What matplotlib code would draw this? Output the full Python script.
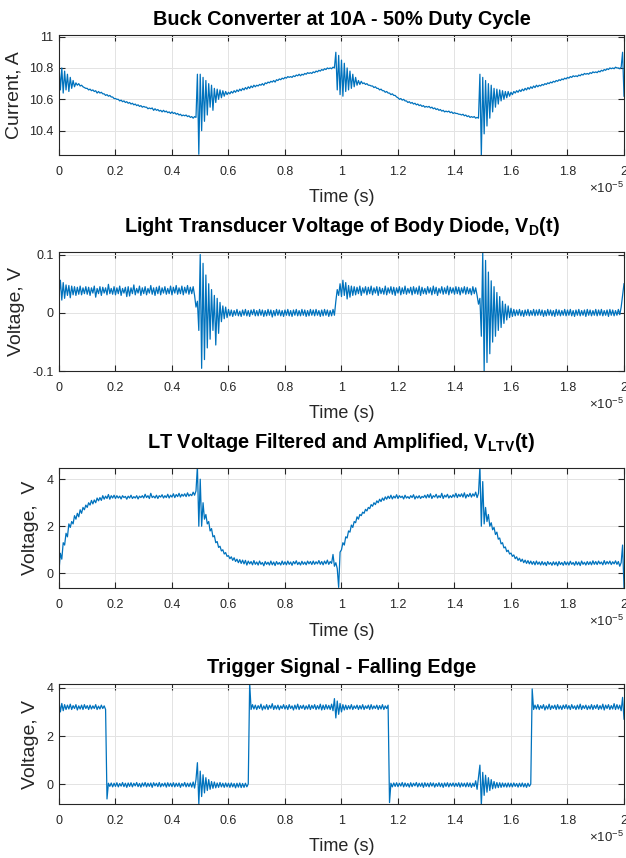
import numpy as np
import matplotlib
matplotlib.use('Agg')
import matplotlib.pyplot as plt
from matplotlib.ticker import MultipleLocator, FuncFormatter

# sample times, units of 1e-5 s (0.000 ... 2.000 in steps of 0.005)
time_steps = np.arange(401) * 0.005

# one row = 0.1e-5 s
current_a = [
    10.82, 10.66, 10.80, 10.64, 10.78, 10.66, 10.76, 10.65, 10.74, 10.67, 10.72, 10.68, 10.705, 10.69, 10.70, 10.685, 10.69, 10.68, 10.675, 10.67,
    10.67, 10.66, 10.665, 10.655, 10.66, 10.65, 10.655, 10.64, 10.65, 10.64, 10.645, 10.635, 10.635, 10.625, 10.63, 10.62, 10.625, 10.615, 10.615, 10.605,
    10.605, 10.60, 10.60, 10.59, 10.595, 10.585, 10.59, 10.58, 10.585, 10.575, 10.58, 10.57, 10.575, 10.565, 10.57, 10.56, 10.565, 10.555, 10.56, 10.55,
    10.555, 10.55, 10.55, 10.54, 10.545, 10.54, 10.545, 10.53, 10.54, 10.53, 10.535, 10.525, 10.53, 10.52, 10.53, 10.52, 10.525, 10.515, 10.52, 10.51,
    10.52, 10.51, 10.515, 10.505, 10.51, 10.50, 10.505, 10.495, 10.50, 10.495, 10.50, 10.49, 10.495, 10.485, 10.49, 10.48, 10.49, 10.485, 10.76, 10.25,
    10.76, 10.40, 10.74, 10.46, 10.72, 10.50, 10.70, 10.55, 10.69, 10.53, 10.67, 10.58, 10.665, 10.60, 10.66, 10.61, 10.655, 10.62, 10.65, 10.63,
    10.645, 10.635, 10.65, 10.64, 10.655, 10.645, 10.66, 10.65, 10.665, 10.655, 10.67, 10.66, 10.675, 10.665, 10.68, 10.67, 10.685, 10.675, 10.69, 10.68,
    10.69, 10.685, 10.695, 10.69, 10.70, 10.69, 10.705, 10.70, 10.71, 10.705, 10.715, 10.71, 10.72, 10.71, 10.725, 10.72, 10.73, 10.725, 10.735, 10.73,
    10.74, 10.735, 10.745, 10.74, 10.745, 10.74, 10.75, 10.745, 10.755, 10.75, 10.76, 10.75, 10.76, 10.755, 10.765, 10.76, 10.77, 10.765, 10.77, 10.765,
    10.775, 10.77, 10.78, 10.775, 10.785, 10.78, 10.79, 10.785, 10.795, 10.79, 10.80, 10.795, 10.80, 10.795, 10.805, 10.80, 10.90, 10.66, 10.88, 10.63,
    10.85, 10.62, 10.83, 10.65, 10.80, 10.66, 10.78, 10.67, 10.76, 10.68, 10.74, 10.69, 10.72, 10.695, 10.715, 10.70, 10.705, 10.695, 10.70, 10.69,
    10.69, 10.685, 10.685, 10.675, 10.68, 10.67, 10.67, 10.66, 10.665, 10.655, 10.655, 10.645, 10.65, 10.64, 10.64, 10.63, 10.635, 10.625, 10.625, 10.615,
    10.61, 10.60, 10.605, 10.595, 10.60, 10.59, 10.59, 10.58, 10.585, 10.575, 10.58, 10.57, 10.575, 10.565, 10.57, 10.56, 10.565, 10.555, 10.56, 10.55,
    10.555, 10.55, 10.555, 10.545, 10.55, 10.54, 10.545, 10.535, 10.54, 10.53, 10.535, 10.525, 10.53, 10.52, 10.525, 10.52, 10.525, 10.515, 10.52, 10.51,
    10.515, 10.51, 10.51, 10.505, 10.505, 10.50, 10.505, 10.495, 10.50, 10.49, 10.495, 10.485, 10.49, 10.485, 10.49, 10.48, 10.485, 10.48, 10.76, 10.24,
    10.74, 10.38, 10.72, 10.43, 10.70, 10.48, 10.69, 10.52, 10.67, 10.55, 10.665, 10.57, 10.66, 10.59, 10.655, 10.60, 10.65, 10.61, 10.65, 10.62,
    10.645, 10.63, 10.65, 10.64, 10.655, 10.645, 10.66, 10.65, 10.665, 10.655, 10.67, 10.66, 10.675, 10.665, 10.68, 10.67, 10.685, 10.675, 10.69, 10.68,
    10.69, 10.685, 10.695, 10.69, 10.70, 10.695, 10.705, 10.70, 10.71, 10.705, 10.715, 10.71, 10.72, 10.715, 10.725, 10.72, 10.73, 10.725, 10.735, 10.73,
    10.74, 10.735, 10.745, 10.74, 10.75, 10.745, 10.75, 10.745, 10.755, 10.75, 10.76, 10.755, 10.765, 10.76, 10.765, 10.76, 10.77, 10.765, 10.775, 10.77,
    10.775, 10.77, 10.78, 10.775, 10.785, 10.78, 10.79, 10.785, 10.795, 10.79, 10.80, 10.795, 10.80, 10.795, 10.805, 10.80, 10.80, 10.795, 10.805, 10.90,
    10.62,
]

diode_v = [
    0.028, 0.056, 0.022, 0.052, 0.025, 0.048, 0.030, 0.047, 0.026, 0.046, 0.031, 0.045, 0.030, 0.044, 0.032, 0.046, 0.031, 0.043, 0.033, 0.045,
    0.032, 0.044, 0.030, 0.043, 0.034, 0.046, 0.027, 0.042, 0.033, 0.045, 0.030, 0.044, 0.034, 0.043, 0.031, 0.049, 0.033, 0.042, 0.032, 0.045,
    0.031, 0.043, 0.033, 0.046, 0.030, 0.042, 0.034, 0.044, 0.028, 0.045, 0.029, 0.043, 0.033, 0.048, 0.031, 0.042, 0.034, 0.046, 0.030, 0.043,
    0.033, 0.045, 0.031, 0.042, 0.034, 0.047, 0.032, 0.043, 0.030, 0.044, 0.033, 0.046, 0.031, 0.043, 0.034, 0.045, 0.032, 0.042, 0.033, 0.046,
    0.031, 0.044, 0.034, 0.047, 0.032, 0.043, 0.033, 0.046, 0.031, 0.044, 0.034, 0.047, 0.032, 0.044, 0.033, 0.045, 0.030, 0.010, 0.020, -0.030,
    0.100, -0.095, 0.085, -0.080, 0.065, -0.060, 0.050, -0.045, 0.040, -0.030, 0.030, -0.055, 0.025, -0.035, 0.018, -0.015, 0.012, -0.010, 0.010, -0.008,
    0.006, -0.005, 0.005, -0.006, 0.004, -0.004, 0.006, -0.005, 0.003, -0.006, 0.005, -0.004, 0.006, -0.005, 0.004, -0.006, 0.005, -0.003, 0.006, -0.005,
    0.004, -0.005, 0.006, -0.004, 0.005, -0.006, 0.004, -0.005, 0.006, -0.004, 0.005, -0.007, 0.004, -0.005, 0.006, -0.004, 0.005, -0.005, 0.004, -0.006,
    0.005, -0.004, 0.006, -0.005, 0.004, -0.006, 0.005, -0.004, 0.006, -0.005, 0.004, -0.005, 0.006, -0.004, 0.005, -0.006, 0.004, -0.005, 0.006, -0.004,
    0.005, -0.005, 0.006, -0.004, 0.004, -0.006, 0.005, -0.005, 0.006, -0.004, 0.005, -0.006, 0.004, -0.005, 0.006, -0.004, 0.020, 0.040, 0.030, 0.050,
    0.028, 0.056, 0.030, 0.052, 0.024, 0.047, 0.027, 0.046, 0.030, 0.045, 0.031, 0.044, 0.033, 0.046, 0.030, 0.043, 0.034, 0.045, 0.031, 0.044,
    0.033, 0.046, 0.031, 0.043, 0.034, 0.045, 0.030, 0.044, 0.033, 0.042, 0.032, 0.046, 0.031, 0.043, 0.034, 0.045, 0.032, 0.044, 0.030, 0.043,
    0.034, 0.045, 0.031, 0.043, 0.033, 0.046, 0.032, 0.042, 0.034, 0.044, 0.031, 0.045, 0.033, 0.043, 0.032, 0.046, 0.030, 0.044, 0.033, 0.042,
    0.032, 0.045, 0.034, 0.043, 0.031, 0.046, 0.033, 0.044, 0.030, 0.042, 0.034, 0.045, 0.032, 0.043, 0.033, 0.046, 0.031, 0.044, 0.034, 0.043,
    0.032, 0.045, 0.033, 0.044, 0.031, 0.043, 0.034, 0.045, 0.032, 0.044, 0.033, 0.042, 0.031, 0.045, 0.033, 0.043, 0.030, 0.015, 0.025, -0.040,
    0.104, -0.100, 0.090, -0.085, 0.070, -0.070, 0.055, -0.050, 0.045, -0.040, 0.035, -0.030, 0.028, -0.025, 0.020, -0.018, 0.015, -0.012, 0.012, -0.008,
    0.008, -0.006, 0.006, -0.005, 0.005, -0.004, 0.006, -0.005, 0.004, -0.006, 0.005, -0.004, 0.006, -0.005, 0.004, -0.004, 0.006, -0.005, 0.005, -0.004,
    0.006, -0.004, 0.005, -0.006, 0.004, -0.005, 0.006, -0.004, 0.005, -0.005, 0.004, -0.006, 0.006, -0.004, 0.005, -0.005, 0.004, -0.004, 0.006, -0.005,
    0.005, -0.004, 0.006, -0.005, 0.004, -0.006, 0.005, -0.004, 0.006, -0.005, 0.004, -0.004, 0.005, -0.006, 0.006, -0.004, 0.005, -0.005, 0.004, -0.004,
    0.006, -0.005, 0.005, -0.004, 0.006, -0.005, 0.004, -0.004, 0.005, -0.006, 0.006, -0.004, 0.005, -0.005, 0.004, -0.004, 0.006, -0.003, 0.010, 0.030,
    0.050,
]

ltv_v = [
    0.10, 0.85, 0.60, 1.30, 1.20, 1.70, 1.55, 2.10, 1.95, 2.20, 2.10, 2.45, 2.30, 2.55, 2.40, 2.70, 2.55, 2.80, 2.70, 2.90,
    2.80, 3.00, 2.90, 3.10, 2.95, 3.12, 3.00, 3.20, 3.08, 3.22, 3.10, 3.30, 3.15, 3.28, 3.18, 3.35, 3.15, 3.30, 3.20, 3.32,
    3.18, 3.30, 3.20, 3.28, 3.16, 3.30, 3.22, 3.27, 3.15, 3.28, 3.20, 3.32, 3.18, 3.26, 3.20, 3.30, 3.16, 3.28, 3.22, 3.30,
    3.20, 3.36, 3.22, 3.30, 3.18, 3.40, 3.22, 3.28, 3.20, 3.32, 3.18, 3.30, 3.24, 3.34, 3.20, 3.30, 3.22, 3.36, 3.20, 3.32,
    3.24, 3.38, 3.22, 3.35, 3.26, 3.40, 3.24, 3.36, 3.28, 3.38, 3.26, 3.42, 3.28, 3.36, 3.30, 3.45, 3.32, 3.50, 4.55, 2.00,
    4.00, 2.00, 3.00, 2.30, 2.50, 2.10, 2.20, 1.80, 1.90, 1.55, 1.60, 1.30, 1.35, 1.10, 1.15, 0.95, 1.00, 0.82, 0.88, 0.72,
    0.75, 0.62, 0.70, 0.55, 0.66, 0.50, 0.60, 0.45, 0.58, 0.42, 0.56, 0.40, 0.55, 0.35, 0.52, 0.40, 0.50, 0.36, 0.54, 0.38,
    0.48, 0.35, 0.52, 0.38, 0.46, 0.32, 0.50, 0.38, 0.47, 0.35, 0.52, 0.36, 0.48, 0.33, 0.50, 0.38, 0.46, 0.35, 0.52, 0.37,
    0.49, 0.36, 0.52, 0.38, 0.48, 0.34, 0.50, 0.40, 0.53, 0.37, 0.47, 0.35, 0.51, 0.38, 0.48, 0.36, 0.52, 0.40, 0.50, 0.37,
    0.52, 0.38, 0.49, 0.40, 0.54, 0.38, 0.50, 0.36, 0.52, 0.40, 0.56, 0.38, 0.50, 0.42, 0.80, 0.30, 0.45, 0.20, -0.60, 0.90,
    1.00, 1.30, 1.20, 1.55, 1.50, 1.80, 1.75, 2.05, 1.95, 2.20, 2.15, 2.40, 2.30, 2.50, 2.45, 2.60, 2.55, 2.72, 2.65, 2.80,
    2.75, 2.92, 2.85, 3.00, 2.92, 3.08, 3.00, 3.15, 3.05, 3.20, 3.10, 3.25, 3.15, 3.28, 3.18, 3.32, 3.16, 3.28, 3.20, 3.34,
    3.18, 3.30, 3.22, 3.28, 3.16, 3.32, 3.20, 3.26, 3.18, 3.30, 3.22, 3.34, 3.16, 3.28, 3.20, 3.30, 3.18, 3.27, 3.22, 3.32,
    3.20, 3.35, 3.22, 3.38, 3.18, 3.30, 3.24, 3.36, 3.20, 3.30, 3.22, 3.40, 3.18, 3.32, 3.24, 3.36, 3.20, 3.30, 3.22, 3.34,
    3.24, 3.40, 3.22, 3.36, 3.26, 3.38, 3.24, 3.42, 3.20, 3.35, 3.26, 3.40, 3.24, 3.38, 3.28, 3.45, 3.22, 3.40, 4.55, 2.00,
    3.90, 2.10, 2.80, 2.20, 2.50, 2.00, 2.15, 1.85, 1.95, 1.65, 1.75, 1.45, 1.50, 1.25, 1.30, 1.08, 1.12, 0.92, 0.98, 0.82,
    0.86, 0.72, 0.78, 0.62, 0.70, 0.55, 0.64, 0.50, 0.60, 0.45, 0.56, 0.42, 0.54, 0.40, 0.52, 0.38, 0.50, 0.36, 0.52, 0.38,
    0.48, 0.35, 0.50, 0.36, 0.47, 0.33, 0.50, 0.38, 0.46, 0.34, 0.49, 0.36, 0.48, 0.32, 0.50, 0.37, 0.46, 0.34, 0.50, 0.36,
    0.48, 0.35, 0.51, 0.38, 0.46, 0.34, 0.50, 0.36, 0.48, 0.33, 0.52, 0.38, 0.47, 0.35, 0.50, 0.37, 0.49, 0.36, 0.53, 0.38,
    0.50, 0.37, 0.52, 0.40, 0.48, 0.36, 0.54, 0.38, 0.50, 0.40, 0.52, 0.37, 0.49, 0.40, 0.53, 0.38, 0.50, 0.30, 0.45, 1.20,
    -0.60,
]

trigger_v = [
    3.45, 3.00, 3.35, 3.05, 3.30, 3.10, 3.28, 3.12, 3.32, 3.10, 3.26, 3.14, 3.30, 3.08, 3.25, 3.12, 3.28, 3.10, 3.30, 3.14,
    3.26, 3.10, 3.28, 3.12, 3.25, 3.14, 3.30, 3.10, 3.24, 3.12, 3.28, 3.14, 3.25, 3.10, -0.60, 0.05, -0.08, 0.06, -0.10, 0.05,
    -0.08, 0.07, -0.10, 0.04, -0.07, 0.08, -0.09, 0.05, -0.12, 0.06, -0.08, 0.07, -0.10, 0.05, -0.06, 0.08, -0.09, 0.04, -0.11, 0.06,
    -0.07, 0.08, -0.10, 0.05, -0.08, 0.06, -0.12, 0.07, -0.06, 0.05, -0.09, 0.08, -0.10, 0.04, -0.07, 0.06, -0.11, 0.07, -0.08, 0.05,
    -0.09, 0.07, -0.10, 0.05, -0.08, 0.06, -0.12, 0.04, -0.07, 0.08, -0.10, 0.05, -0.09, 0.06, -0.11, 0.10, -0.15, 0.20, 0.90, -0.80,
    0.55, -0.50, 0.40, -0.35, 0.28, -0.25, 0.20, -0.20, 0.12, -0.16, 0.10, -0.14, 0.06, -0.12, 0.08, -0.10, 0.05, -0.12, 0.06, -0.10,
    0.05, -0.12, 0.06, -0.10, 0.04, -0.14, 0.05, -0.11, 0.06, -0.13, 0.04, -0.12, 0.05, -0.10, 0.02, 4.20, 3.10, 3.30, 3.12, 3.28,
    3.10, 3.26, 3.14, 3.32, 3.08, 3.25, 3.12, 3.30, 3.10, 3.27, 3.15, 3.34, 3.10, 3.26, 3.12, 3.28, 3.09, 3.25, 3.14, 3.30,
    3.12, 3.26, 3.10, 3.30, 3.14, 3.25, 3.08, 3.28, 3.12, 3.32, 3.10, 3.26, 3.14, 3.28, 3.10, 3.25, 3.12, 3.30, 3.10, 3.27,
    3.14, 3.30, 3.10, 3.26, 3.12, 3.32, 3.08, 3.28, 3.10, 3.30, 3.12, 3.27, 3.10, 3.32, 3.05, 3.55, 2.75, 3.45, 2.90, 3.35,
    3.00, 3.30, 3.08, 3.28, 3.10, 3.26, 3.12, 3.30, 3.10, 3.25, 3.14, 3.28, 3.10, 3.26, 3.12, 3.30, 3.10, 3.25, 3.14, 3.28,
    3.10, 3.30, 3.12, 3.25, 3.14, 3.28, 3.10, 3.26, 3.12, 3.30, 3.10, 3.25, 3.14, 3.28, -0.75, 0.05, -0.10, 0.06, -0.08, 0.07,
    -0.09, 0.05, -0.07, 0.08, -0.10, 0.06, -0.08, 0.04, -0.11, 0.07, -0.09, 0.05, -0.06, 0.08, -0.10, 0.05, -0.08, 0.06, -0.12, 0.07,
    -0.08, 0.05, -0.10, 0.07, -0.07, 0.06, -0.11, 0.04, -0.08, 0.07, -0.09, 0.05, -0.12, 0.06, -0.08, 0.07, -0.10, 0.05, -0.07, 0.06,
    -0.09, 0.05, -0.08, 0.07, -0.11, 0.06, -0.08, 0.05, -0.10, 0.07, -0.09, 0.06, -0.12, 0.05, -0.08, 0.15, -0.20, 0.30, 0.80, -0.85,
    0.50, -0.45, 0.38, -0.32, 0.28, -0.25, 0.20, -0.18, 0.12, -0.15, 0.08, -0.13, 0.07, -0.12, 0.06, -0.10, 0.05, -0.11, 0.06, -0.10,
    0.05, -0.10, 0.06, -0.08, 0.04, -0.11, 0.05, -0.09, 0.06, -0.10, 0.04, -0.12, 0.05, -0.08, 0.02, 3.95, 3.10, 3.28, 3.12, 3.30,
    3.10, 3.26, 3.14, 3.30, 3.08, 3.25, 3.12, 3.32, 3.10, 3.26, 3.14, 3.28, 3.10, 3.30, 3.12, 3.25, 3.10, 3.28, 3.14, 3.30,
    3.12, 3.26, 3.10, 3.30, 3.14, 3.25, 3.10, 3.28, 3.12, 3.32, 3.10, 3.26, 3.14, 3.28, 3.10, 3.25, 3.12, 3.30, 3.10, 3.27,
    3.14, 3.30, 3.10, 3.26, 3.12, 3.32, 3.08, 3.28, 3.14, 3.30, 3.10, 3.26, 3.12, 3.34, 3.10, 3.30, 3.12, 3.28, 3.05, 3.60,
    2.70,
]

titles = [
    'Buck Converter at 10A - 50% Duty Cycle',
    'Light Transducer Voltage of Body Diode, V$_{D}$(t)',
    'LT Voltage Filtered and Amplified, V$_{LTV}$(t)',
    'Trigger Signal - Falling Edge',
]
ylabels = ['Current, A', 'Voltage, V', 'Voltage,  V', 'Voltage, V']
yticks = [[10.4, 10.6, 10.8, 11], [-0.1, 0, 0.1], [0, 2, 4], [0, 2, 4]]
ylims = [(10.245, 11.01), (-0.1, 0.104), (-0.64, 4.49), (-0.81, 4.14)]

MATLAB_BLUE = '#0072BD'
DARK = '#262626'

plt.rcParams['font.family'] = ['Liberation Sans', 'DejaVu Sans']
plt.rcParams['mathtext.default'] = 'regular'

# axes boxes in figure fraction: left, bottom, width, height
boxes = [
    [0.0942, 0.8193, 0.9026, 0.1399],
    [0.0942, 0.5673, 0.9026, 0.1387],
    [0.0942, 0.3143, 0.9026, 0.1406],
    [0.0942, 0.0629, 0.9026, 0.1395],
]
title_pads = [7.2, 14.4, 14.2, 8.0]


def fmt_num(v, pos):
    return '%g' % round(v, 6)


def make_panel(fig, box, yvals, title, ylabel, ticks, ylim, pad):
    ax = fig.add_axes(box)
    ax.plot(time_steps * 1e-5, yvals, color=MATLAB_BLUE, linewidth=0.9)
    ax.set_xlim(0, 2e-5)
    ax.set_ylim(*ylim)
    ax.xaxis.set_major_locator(MultipleLocator(0.2e-5))
    ax.xaxis.set_major_formatter(FuncFormatter(lambda v, p: '%g' % round(v * 1e5, 6)))
    ax.set_yticks(ticks)
    ax.yaxis.set_major_formatter(FuncFormatter(fmt_num))
    ax.grid(True, color='#e3e3e3', linewidth=0.7)
    ax.set_axisbelow(True)
    ax.tick_params(direction='in', length=4, width=0.8, colors=DARK,
                   top=True, right=True, labelsize=9)
    ax.tick_params(axis='x', pad=8)
    ax.tick_params(axis='y', pad=4)
    for sp in ax.spines.values():
        sp.set_color(DARK)
        sp.set_linewidth(0.8)
    ax.set_title(title, fontsize=14.3, fontweight='bold', pad=pad, color='black')
    ax.set_xlabel('Time (s)', fontsize=13, color=DARK, labelpad=8)
    ax.set_ylabel(ylabel, fontsize=14, color=DARK, labelpad=5)
    ax.annotate(r'$\times$10$^{-5}$', xy=(1, 0), xycoords='axes fraction',
                xytext=(0, -24), textcoords='offset points', ha='right',
                va='center', fontsize=9.5, color=DARK)
    return ax


def main():
    fig = plt.figure(figsize=(6.26, 8.58), dpi=100)
    series = [current_a, diode_v, ltv_v, trigger_v]
    for k in range(4):
        make_panel(fig, boxes[k], series[k], titles[k], ylabels[k],
                   yticks[k], ylims[k], title_pads[k])
    fig.savefig('out.png', dpi=100, facecolor='white')


if __name__ == '__main__':
    main()
